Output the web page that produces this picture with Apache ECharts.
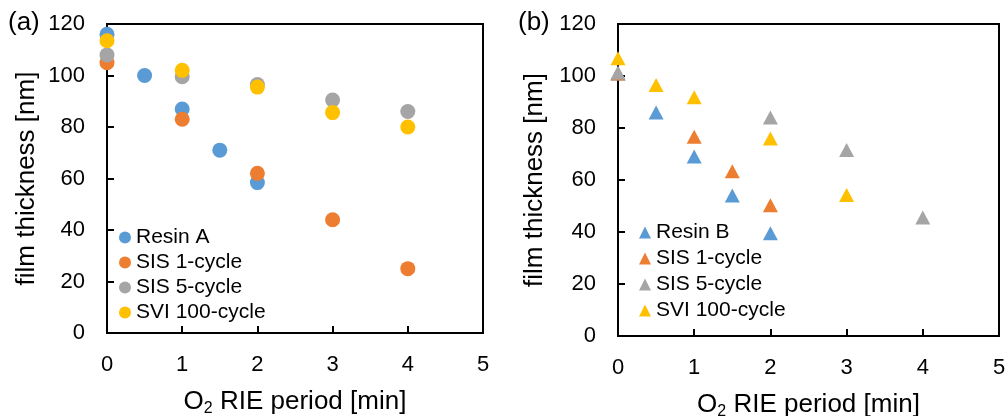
<!DOCTYPE html>
<html>
<head>
<meta charset="utf-8">
<script src="https://cdn.jsdelivr.net/npm/echarts@6/dist/echarts.min.js"></script>
<style>
  html, body { margin: 0; padding: 0; background: #fff; }
  #chart { width: 1007px; height: 416px; }
</style>
</head>
<body>
<div id="chart"></div>
<script>
// panel (a): circles
const seriesNamesA = ['Resin A', 'SIS 1-cycle', 'SIS 5-cycle', 'SVI 100-cycle'];
const resinA = [[0, 116], [0.5, 100], [1, 87], [1.5, 71], [2, 58.4]];
const sis1A = [[0, 105], [1, 83], [2, 62], [3, 44], [4, 25]];
const sis5A = [[0, 108], [1, 99.5], [2, 96.5], [3, 90.5], [4, 86]];
const svi100A = [[0, 113.5], [1, 102], [2, 95.5], [3, 85.6], [4, 80]];

// panel (b): triangles
const seriesNamesB = ['Resin B', 'SIS 1-cycle', 'SIS 5-cycle', 'SVI 100-cycle'];
const resinB = [[0, 101], [0.5, 86], [1, 69], [1.5, 54], [2, 39.5]];
const sis1B = [[0, 101], [1, 76.6], [1.5, 63.4], [2, 50.3]];
const sis5B = [[0, 101.3], [2, 84], [3, 71.5], [4, 45.6]];
const svi100B = [[0, 106.8], [0.5, 96.5], [1, 91.8], [2, 76], [3, 54.2]];

const colors = ['#5B9BD5', '#ED7D31', '#A5A5A5', '#FFC000'];
const font = 'Liberation Sans, Arial, sans-serif';

const chart = echarts.init(document.getElementById('chart'));

const xAxisBase = (gridIndex) => ({
    type: 'value', gridIndex, min: 0, max: 5, interval: 1,
    splitLine: { show: false },
    axisLine: { onZero: false, lineStyle: { color: '#000', width: 2 } },
    axisTick: { inside: true, length: 7, lineStyle: { color: '#000', width: 2 } },
    axisLabel: { color: '#000', fontSize: 22, fontFamily: font, margin: 21 },
    name: '{a|O}{sub|2}{a| RIE period [min]}',
    nameLocation: 'middle', nameGap: 54,
    nameTextStyle: {
        rich: {
            a: { fontSize: 26, fontFamily: font, color: '#000' },
            sub: { fontSize: 16, fontFamily: font, color: '#000', padding: [14, 0, 0, 0] }
        }
    }
});

const yAxisBase = (gridIndex, gap) => ({
    type: 'value', gridIndex, min: 0, max: 120, interval: 20,
    splitLine: { show: false },
    axisLine: { lineStyle: { color: '#000', width: 2 } },
    axisTick: { inside: true, length: 7, lineStyle: { color: '#000', width: 2 } },
    axisLabel: { color: '#000', fontSize: 22, fontFamily: font, margin: 22 },
    name: 'film thickness [nm]',
    nameLocation: 'middle', nameGap: gap,
    nameTextStyle: { color: '#000', fontSize: 26, fontFamily: font }
});

const makeSeries = (name, data, i, axis, symbol, size) => ({
    name, type: 'scatter', data,
    xAxisIndex: axis, yAxisIndex: axis,
    symbol, symbolSize: size,
    itemStyle: { color: colors[i], opacity: 1 },
    emphasis: { disabled: true }
});

const legendBase = {
    orient: 'vertical', itemWidth: 12, itemHeight: 12, itemGap: 4,
    textStyle: { color: '#000', fontSize: 21, fontFamily: font }
};

const option = {
    animation: false,
    grid: [
        { left: 107, top: 24, width: 376, height: 309, show: true, borderColor: '#000', borderWidth: 2,
          containLabel: false, outerBoundsMode: 'none' },
        { left: 618, top: 24, width: 381, height: 312, show: true, borderColor: '#000', borderWidth: 2,
          containLabel: false, outerBoundsMode: 'none' }
    ],
    xAxis: [xAxisBase(0), xAxisBase(1)],
    yAxis: [yAxisBase(0, 67), yAxisBase(1, 70)],
    legend: [
        Object.assign({}, legendBase, {
            left: 114, top: 222, icon: 'circle',
            data: seriesNamesA.map((n, i) => ({ name: 'a' + i }))
        })
    ],
    graphic: [
        { type: 'text', left: 8, top: 10, style: { text: '(a)', fontSize: 26, fontFamily: font, fill: '#000' } },
        { type: 'text', left: 518, top: 10, style: { text: '(b)', fontSize: 26, fontFamily: font, fill: '#000' } }
    ],
    series: []
};

// legends need unique names per panel, so keep series names distinct and format them back
const fmtA = (n) => seriesNamesA[+n.slice(1)];
const fmtB = (n) => seriesNamesB[+n.slice(1)];
option.legend[0].formatter = fmtA;
option.legend.push(Object.assign({}, legendBase, {
    left: 634, top: 217, icon: 'triangle', formatter: fmtB, itemGap: 5,
    data: seriesNamesB.map((n, i) => ({ name: 'b' + i }))
}));

[resinA, sis1A, sis5A, svi100A].forEach((d, i) => {
    option.series.push(makeSeries('a' + i, d, i, 0, 'circle', 15));
});
[resinB, sis1B, sis5B, svi100B].forEach((d, i) => {
    option.series.push(makeSeries('b' + i, d, i, 1, 'triangle', [15, 14]));
});

chart.setOption(option);
</script>
</body>
</html>
